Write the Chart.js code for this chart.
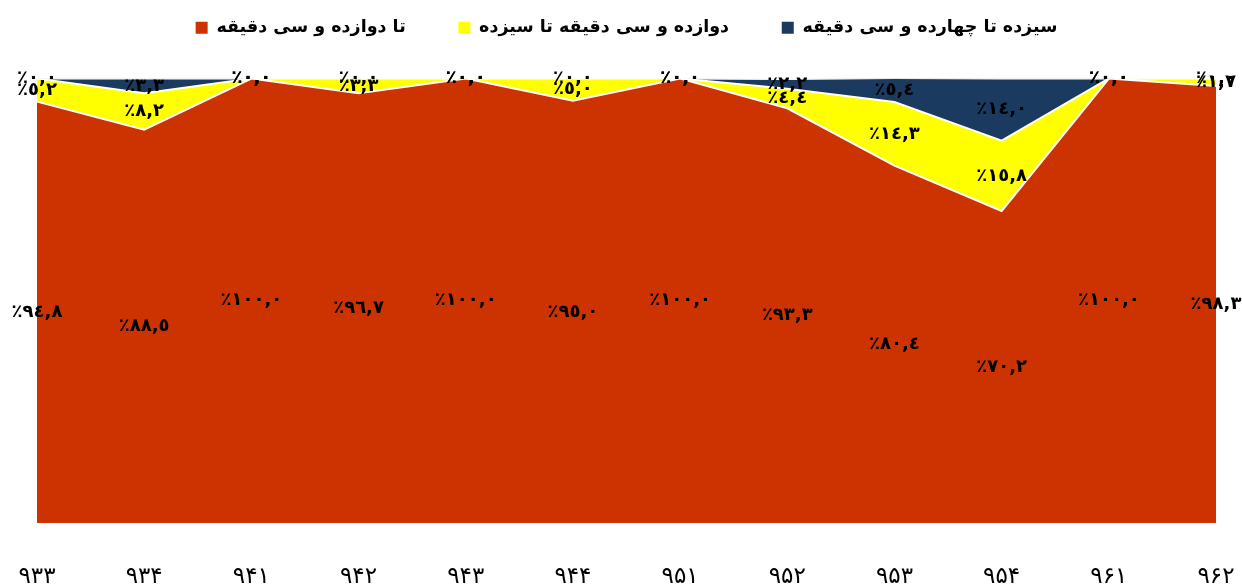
<!DOCTYPE html>
<html>
<head>
<meta charset="utf-8">
<script src="https://cdn.jsdelivr.net/npm/chart.js@4.4.1/dist/chart.umd.min.js"></script>
<style>
html,body{margin:0;padding:0;background:#fff;}
#wrap{width:1242px;height:587px;}
</style>
</head>
<body>
<div id="wrap"><canvas id="c" width="1242" height="587"></canvas></div>
<script>
const categories = ['۹۳۳','۹۳۴','۹۴۱','۹۴۲','۹۴۳','۹۴۴','۹۵۱','۹۵۲','۹۵۳','۹۵۴','۹۶۱','۹۶۲'];
const seriesNames = ['تا دوازده و سی دقیقه','دوازده و سی دقیقه تا سیزده','سیزده تا چهارده و سی دقیقه'];
const upTo1230 = [94.8, 88.5, 100.0, 96.7, 100.0, 95.0, 100.0, 93.3, 80.4, 70.2, 100.0, 98.3];
const from1230To13 = [5.2, 8.2, 0.0, 3.3, 0.0, 5.0, 0.0, 4.4, 14.3, 15.8, 0.0, 1.7];
const from13To1430 = [0.0, 3.3, 0.0, 0.0, 0.0, 0.0, 0.0, 2.2, 5.4, 14.0, 0.0, 0.0];
const colors = ['#CC3300', '#FFFF00', '#1B3A5F'];

const AR = '٠١٢٣٤٥٦٧٨٩';
function fmt(v){
  const s = v.toFixed(1).replace('.', ',');
  let out = '';
  for (const ch of s) out += (ch >= '0' && ch <= '9') ? AR[+ch] : ch;
  return '\u202D٪' + out + '\u202C';
}

const labelPlugin = {
  id: 'segLabels',
  afterDatasetsDraw(chart){
    const ctx = chart.ctx;
    const xs = chart.scales.x, ys = chart.scales.y;
    const sets = chart.data.datasets;
    ctx.save();
    ctx.font = 'bold 18px "DejaVu Sans"';
    ctx.fillStyle = '#000';
    ctx.textAlign = 'center';
    ctx.textBaseline = 'middle';
    ctx.direction = 'ltr';
    for (let j = 0; j < categories.length; j++){
      let base = 0;
      for (let i = 0; i < sets.length; i++){
        const v = sets[i].data[j];
        const mid = base + v / 2;
        base += v;
        ctx.fillText(fmt(v), xs.getPixelForValue(j), ys.getPixelForValue(mid));
      }
    }
    ctx.restore();
  }
};

const GAP = '\u00A0\u00A0\u00A0\u00A0\u00A0\u00A0\u00A0';

new Chart(document.getElementById('c'), {
  type: 'line',
  data: {
    labels: categories,
    datasets: [
      {label: seriesNames[0], data: upTo1230, backgroundColor: colors[0], borderColor: '#fff', fill: 'origin'},
      {label: seriesNames[1], data: from1230To13, backgroundColor: colors[1], borderColor: '#fff', fill: '-1'},
      {label: seriesNames[2], data: from13To1430, backgroundColor: colors[2], borderColor: '#fff', fill: '-1'}
    ]
  },
  options: {
    responsive: false,
    animation: false,
    devicePixelRatio: 1,
    layout: {padding: {left: 37, right: 26, top: 9, bottom: 0}},
    elements: {line: {borderWidth: 2, tension: 0}, point: {radius: 0, hoverRadius: 0}},
    scales: {
      x: {
        offset: false,
        grid: {display: true, drawOnChartArea: false, drawTicks: true, tickLength: 40, color: 'rgba(0,0,0,0)'},
        border: {display: false},
        ticks: {color: '#000', font: {family: 'DejaVu Sans', size: 23}, padding: 0, maxRotation: 0, autoSkip: false},
        afterFit(s){ s.height = 64; }
      },
      y: {display: false, stacked: true, min: 0, max: 100}
    },
    plugins: {
      legend: {
        position: 'top',
        labels: {
          color: '#000', font: {family: 'DejaVu Sans', size: 17.5, weight: 'bold'},
          boxWidth: 12, boxHeight: 12, padding: 10,
          generateLabels(chart){
            const items = Chart.defaults.plugins.legend.labels.generateLabels(chart);
            items.forEach((it, k) => { it.strokeStyle = it.fillStyle; it.lineWidth = 0; if (k < items.length - 1) it.text = it.text + GAP; });
            return items;
          }
        }
      },
      title: {display: true, text: ' ', weight: 500, position: 'top', font: {size: 10}, padding: {top: 10, bottom: 10}},
      tooltip: {enabled: false}
    }
  },
  plugins: [labelPlugin]
});
</script>
</body>
</html>
